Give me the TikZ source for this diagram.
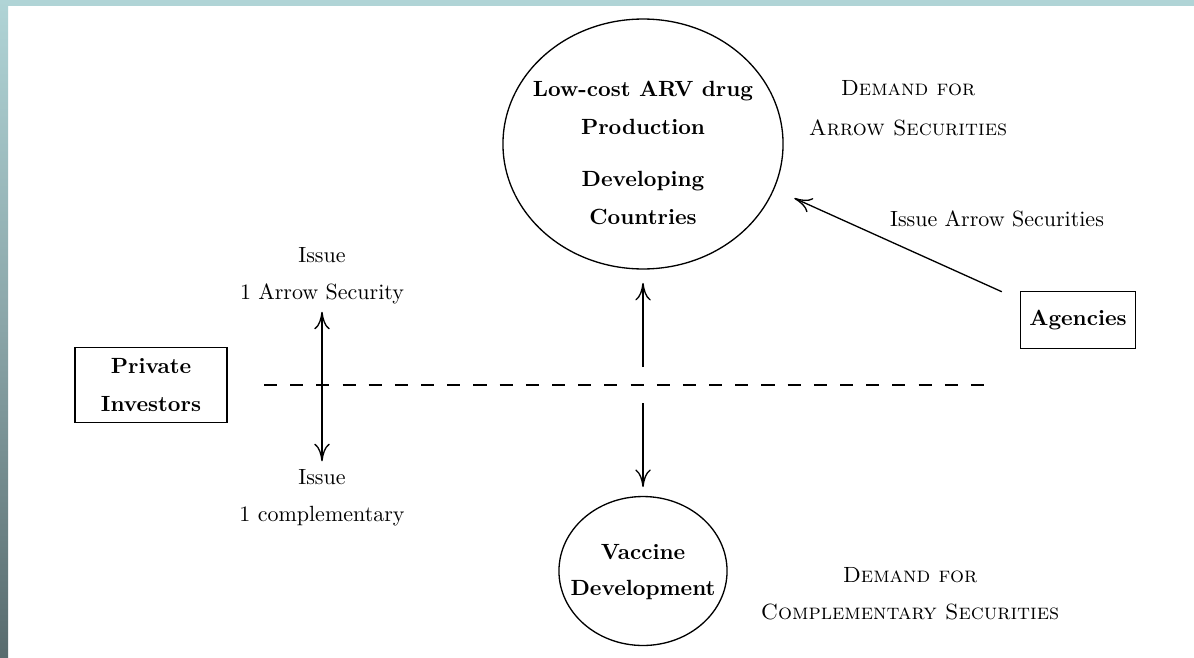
\documentclass[tikz,border=0pt]{standalone}
\usepackage{tikz}
\usetikzlibrary{arrows.meta, calc, shapes.geometric}
\definecolor{frameteal}{HTML}{B0D4D6}
\definecolor{frameshade}{HTML}{8AA5A8}
\definecolor{frameslate}{HTML}{586B6E}

\tikzset{
  bubble/.style={draw, ellipse, line width=0.6pt, inner sep=0pt},
  agentbox/.style={draw, rectangle, line width=0.6pt, font=\bfseries, align=center},
  note/.style={align=center},
  flow/.style={-{To[length=8pt,width=7pt]}, line width=0.6pt},
  twoway/.style={{To[length=8pt,width=7pt]}-{To[length=8pt,width=7pt]}, line width=0.6pt},
}

\begin{document}
\begin{tikzpicture}[x=0.4545pt, y=-0.4545pt]
  % Slide frame
  \useasboundingbox (0,0) rectangle (1194,657);
  \fill[white] (0,0) rectangle (1194,657);
  \fill[frameteal] (0,0) rectangle (1194,6);
  \shade[top color=frameteal, bottom color=frameslate, middle color=frameshade] (0,0) rectangle (8,657);

  % Production in developing countries
  \node[bubble, minimum width=127.3pt, minimum height=113.6pt] (arv) at (643,144) {};
  \node[note, font=\bfseries] (arvtext) at (643,153)
    {Low-cost ARV drug\\[5.5pt]Production\\[11.5pt]Developing\\[5.5pt]Countries};
  \node[note, font=\scshape] (demarrow) at (908,108) {Demand for\\[6pt]Arrow Securities};
  \node[note] (issuelabel) at (997,219) {Issue Arrow Securities};

  % Issuers
  \node[agentbox, minimum width=52.3pt, minimum height=26pt] (agencies) at (1078,320) {Agencies};
  \node[agentbox, minimum width=69pt, minimum height=34pt] (investors) at (151,385) {Private\\[5pt]Investors};
  \node[note] (issuearrow) at (322,275.5) {Issue\\[5pt]1 Arrow Security};
  \node[note] (issuecompl) at (322,497.5) {Issue\\[5pt]1 complementary};

  % Vaccine side
  \node[bubble, minimum width=76.4pt, minimum height=67.7pt] (vaccine) at (643,571) {};
  \node[note, font=\bfseries] (vaccinetext) at (643,572) {Vaccine\\[4pt]Development};
  \node[note, font=\scshape] (demcompl) at (910,594) {Demand for\\[5pt]Complementary Securities};

  % Divide
  \coordinate (divl) at (264,385);
  \coordinate (divr) at (984,385);
  \draw[dash pattern=on 5.95pt off 5.95pt, line width=0.6pt] (divl) -- (divr);

  % Connections
  \coordinate (uptail) at (643,367);
  \coordinate (downtail) at (643,403);
  \coordinate (agtail) at ($(agencies.north west)+(-18,1)$);
  \draw[flow, shorten >=6pt] (uptail) -- (arv.south);
  \draw[flow, shorten >=4pt] (downtail) -- (vaccine.north);
  \draw[flow, shorten >=10pt] (agtail) -- (arv.-19.5);
  \draw[twoway] (issuearrow.south) -- (issuecompl.north);
\end{tikzpicture}
\end{document}
